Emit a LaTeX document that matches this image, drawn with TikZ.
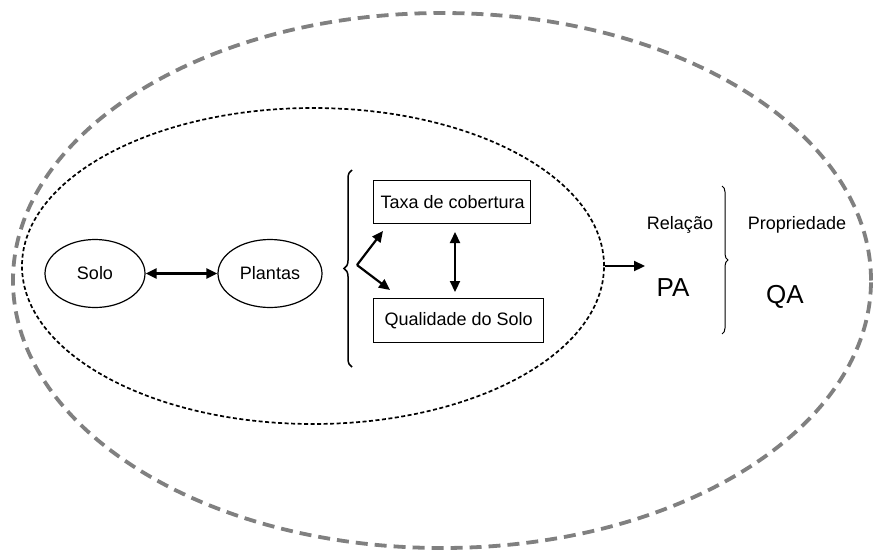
\documentclass[tikz,border=0pt]{standalone}
\usepackage{fontspec}
\setmainfont{Liberation Sans}
\usetikzlibrary{arrows.meta,shapes.geometric,decorations.pathreplacing}
\begin{document}
\begin{tikzpicture}[x=1pt,y=-1pt,
  txt/.style={font=\fontsize{18}{21}\selectfont,inner sep=0pt},
  big/.style={font=\fontsize{26}{29}\selectfont,inner sep=0pt},
  oval/.style={draw,ellipse,line width=1.2pt,font=\fontsize{18}{21}\selectfont,inner sep=0pt},
  boxnode/.style={draw,rectangle,line width=1.3pt,inner sep=0pt},
  arr/.style={line width=2.2pt,-{Triangle[length=11pt,width=10pt]}},
  darr/.style={line width=2.2pt,{Triangle[length=11pt,width=10pt]}-{Triangle[length=11pt,width=10pt]}},
  outerdash/.style={draw=black!50,line width=3.8pt,dash pattern=on 12pt off 7pt},
  innerdash/.style={draw=black,line width=1.7pt,dash pattern=on 4pt off 2.5pt}]
\useasboundingbox (0,0) rectangle (874,549);
\fill[white] (0,0) rectangle (874,549);
% outer ellipse
\node[outerdash,ellipse,minimum width=858,minimum height=535,inner sep=0pt] (outer) at (442,280.5) {};
% inner ellipse
\node[innerdash,ellipse,minimum width=582,minimum height=316,inner sep=0pt] (inner) at (313,266) {};
% Solo and Plantas
\node[oval,minimum width=100,minimum height=68] (solo) at (95,273.5) {Solo};
\node[oval,minimum width=104,minimum height=68] (plantas) at (270,273.5) {Plantas};
\draw[darr] (solo) -- (plantas);
% left brace
\draw[line width=1.5pt,decorate,decoration={brace,amplitude=8pt}] (352,367) -- (352,170);
\coordinate (tip) at (357,265);
% boxes
\node[boxnode,minimum width=157,minimum height=43,anchor=north west] (taxa) at (373,180) {};
\node[txt] at (taxa.center) {\hspace*{1pt}Taxa de cobertura};
\node[boxnode,minimum width=170,minimum height=44,anchor=north west] (qual) at (373,298) {};
\node[txt] at (qual.center) {Qualidade do Solo};
\draw[arr] (tip) -- (383,231);
\draw[arr] (tip) -- (390,290);
\draw[darr] (455,232) -- (455,292);
% output arrow
\coordinate (out) at (645,266);
\draw[arr] (inner.east) -- (out);
% right part
\node[txt] (rel) at (680,225) {Relação};
\node[txt] (prop) at (797,225) {Propriedade};
\node[big] (pa) at (673,288) {PA};
\node[big] (qa) at (785,297) {QA};
\draw[line width=1pt,decorate,decoration={brace,amplitude=6pt}] (722,186) -- (722,334);
\end{tikzpicture}
\end{document}
